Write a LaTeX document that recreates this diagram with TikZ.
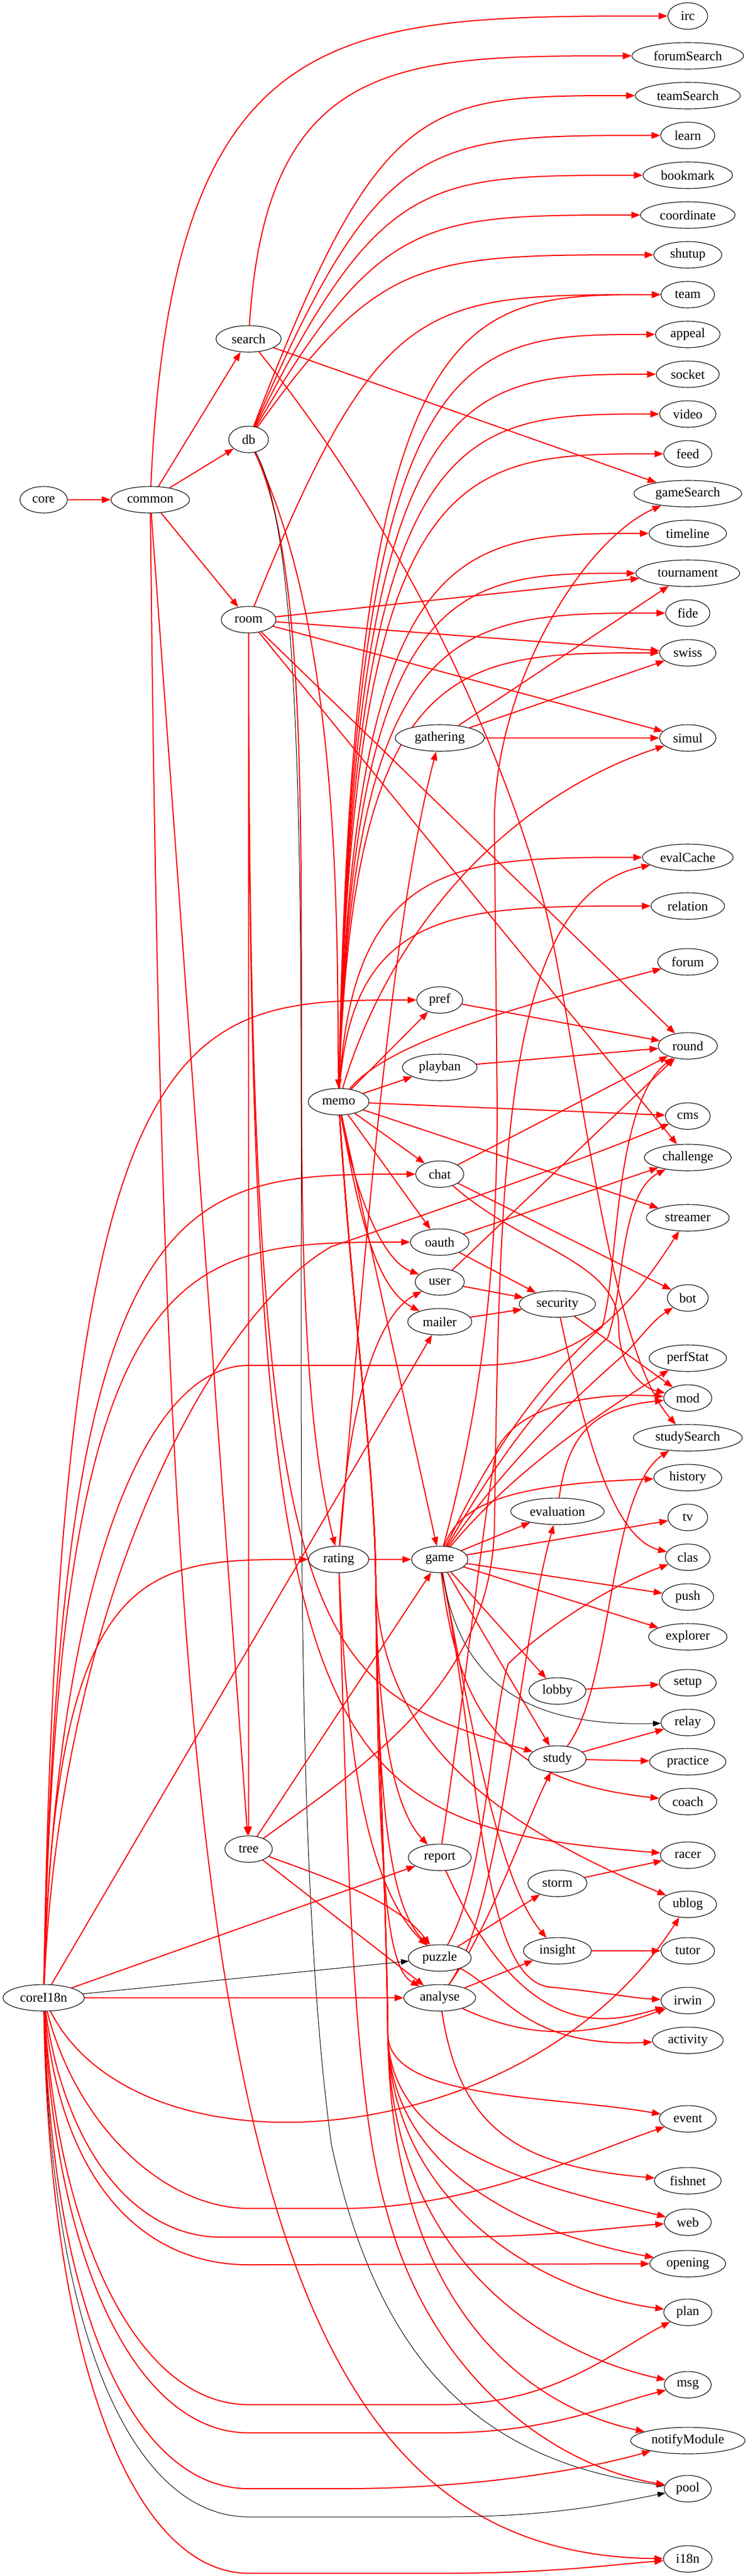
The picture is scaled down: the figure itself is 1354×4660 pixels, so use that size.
\documentclass[tikz,border=0pt]{standalone}
\usepackage{fontspec}
\setmainfont{Liberation Serif}
\usetikzlibrary{shapes.geometric,arrows.meta}
\pgfdeclarelayer{bg}
\pgfdeclarelayer{edges}
\pgfsetlayers{bg,edges,main}
\tikzset{
  modnode/.style={ellipse, draw=black, line width=1.1pt, fill=white, inner sep=0pt,
    minimum height=48pt, font=\fontsize{24}{28}\selectfont},
  redge/.style={draw=red, line width=2pt, -{Triangle[length=16pt,width=12pt]}},
  bedge/.style={draw=black, line width=1pt, -{Triangle[length=14pt,width=10pt]}},
}
\newcommand\nD[4]{\node[modnode, minimum width=#4pt] (#1) at (#2,-#3) {#1};}
\newcommand\eS[3][redge]{\draw[#1] (#2) -- (#3);}
\newcommand\eG[7]{%
  \path (#2); \pgfgetlastxy{\Xa}{\Ya}%
  \path (#3); \pgfgetlastxy{\Xb}{\Yb}%
  \pgfmathsetmacro\Pax{#4*(\Xb-\Xa)}%
  \pgfmathsetmacro\Pay{#5*(\Yb-\Ya)}%
  \pgfmathsetmacro\Pbx{#6*(\Xb-\Xa)}%
  \pgfmathsetmacro\Pby{#7*(\Yb-\Ya)}%
  \draw[#1] (#2) .. controls +(\Pax pt,\Pay pt) and +(\Pbx pt,\Pby pt) .. (#3);%
}
\newcommand\eC[3][redge]{\eG{#1}{#2}{#3}{0.08}{0.7}{-0.7}{-0.08}}
\newcommand\eV[3][redge]{\eG{#1}{#2}{#3}{0.04}{1}{-0.65}{0}}
\newcommand\eD[3][redge]{\eG{#1}{#2}{#3}{0.3}{1}{-0.6}{0}}
\begin{document}
\begin{tikzpicture}[x=1pt,y=1pt]
\useasboundingbox (0,0) rectangle (1354,-4660);
\begin{pgfonlayer}{bg}\fill[white] (0,0) rectangle (1354,-4660);\end{pgfonlayer}
% ---------- nodes
\nD{core}{79}{904}{86}
\nD{common}{272}{904}{142}
\nD{coreI18n}{79}{3614}{147}
\nD{search}{450}{613}{118}
\nD{db}{450}{795}{72}
\nD{room}{450}{1121}{99}
\nD{tree}{450}{3345}{86}
\nD{memo}{613}{1993}{110}
\nD{rating}{613}{2821}{109}
\nD{gathering}{796}{1335}{161}
\nD{pref}{796}{1809}{83}
\nD{playban}{796}{1931}{135}
\nD{chat}{796}{2124}{87}
\nD{oauth}{796}{2247}{106}
\nD{user}{796}{2319}{89}
\nD{mailer}{796}{2391}{116}
\nD{game}{796}{2821}{102}
\nD{report}{796}{3360}{114}
\nD{puzzle}{796}{3542}{114}
\nD{analyse}{796}{3614}{130}
\nD{security}{1009}{2359}{138}
\nD{evaluation}{1009}{2734}{169}
\nD{lobby}{1009}{3059}{103}
\nD{study}{1009}{3182}{104}
\nD{storm}{1009}{3407}{107}
\nD{insight}{1009}{3529}{123}
\nD{irc}{1245}{29}{72}
\nD{forumSearch}{1245}{101}{202}
\nD{teamSearch}{1245}{173}{190}
\nD{learn}{1245}{245}{98}
\nD{bookmark}{1245}{317}{162}
\nD{coordinate}{1245}{389}{171}
\nD{shutup}{1245}{461}{123}
\nD{team}{1245}{533}{97}
\nD{appeal}{1245}{605}{117}
\nD{socket}{1245}{677}{114}
\nD{video}{1245}{749}{102}
\nD{feed}{1245}{821}{87}
\nD{gameSearch}{1245}{893}{195}
\nD{timeline}{1245}{965}{140}
\nD{tournament}{1245}{1037}{188}
\nD{fide}{1245}{1109}{80}
\nD{swiss}{1245}{1181}{102}
\nD{simul}{1245}{1335}{102}
\nD{evalCache}{1245}{1551}{164}
\nD{relation}{1245}{1639}{133}
\nD{forum}{1245}{1740}{109}
\nD{round}{1245}{1892}{107}
\nD{cms}{1245}{2019}{81}
\nD{challenge}{1245}{2094}{157}
\nD{streamer}{1245}{2203}{150}
\nD{bot}{1245}{2348}{74}
\nD{perfStat}{1245}{2457}{140}
\nD{mod}{1245}{2529}{87}
\nD{studySearch}{1245}{2601}{197}
\nD{history}{1245}{2673}{123}
\nD{tv}{1245}{2745}{72}
\nD{clas}{1245}{2817}{81}
\nD{push}{1245}{2889}{94}
\nD{explorer}{1245}{2961}{142}
\nD{setup}{1245}{3044}{103}
\nD{relay}{1245}{3116}{97}
\nD{practice}{1245}{3187}{138}
\nD{coach}{1245}{3259}{105}
\nD{racer}{1245}{3356}{99}
\nD{ublog}{1245}{3445}{104}
\nD{tutor}{1245}{3529}{97}
\nD{irwin}{1245}{3619}{97}
\nD{activity}{1245}{3691}{128}
\nD{event}{1245}{3833}{103}
\nD{fishnet}{1245}{3945}{121}
\nD{web}{1245}{4020}{85}
\nD{opening}{1245}{4095}{137}
\nD{plan}{1245}{4183}{87}
\nD{msg}{1245}{4314}{85}
\nD{notifyModule}{1245}{4415}{207}
\nD{pool}{1245}{4502}{85}
\nD{i18n}{1245}{4629}{88}
% ---------- edges
\begin{pgfonlayer}{edges}
% core / common
\eS{core}{common}
\eS{common}{search}
\eS{common}{db}
\eS{common}{room}
\eS{common}{tree}
\eV{common}{irc}
\draw[redge] (common) .. controls (300,-3600) and (400,-4620) .. (i18n);
% search
\eV{search}{forumSearch}
\eS{search}{gameSearch}
\draw[redge] (search) .. controls (800,-1050) and (960,-1500) .. (1000,-1700) .. controls (1060,-2000) and (1110,-2450) .. (studySearch);
% db
\eD{db}{teamSearch}
\eD{db}{learn}
\eD{db}{bookmark}
\eD{db}{coordinate}
\eD{db}{shutup}
\draw[redge] (db) .. controls (620,-1150) and (610,-1700) .. (memo);
\draw[redge] (db) .. controls (620,-1150) and (480,-2300) .. (rating);
\draw[bedge] (db) .. controls (620,-1100) and (480,-3000) .. (600,-3880) .. controls (680,-4250) and (850,-4450) .. (pool);
% room
\eD{room}{team}
\eS{room}{tournament}
\eS{room}{swiss}
\eS{room}{simul}
\eS{room}{round}
\eS{room}{challenge}
\eS{room}{tree}
\draw[redge] (room) .. controls (450,-3000) and (560,-3050) .. (study);
\draw[redge] (room) .. controls (450,-3200) and (560,-3300) .. (racer);
% memo upwards
\eV{memo}{team}
\eV{memo}{appeal}
\eV{memo}{socket}
\eV{memo}{video}
\eV{memo}{feed}
\eV{memo}{timeline}
\eV{memo}{tournament}
\eV{memo}{fide}
\eV{memo}{swiss}
\draw[redge] (memo) .. controls (700,-1700) and (900,-1450) .. (simul);
\eV{memo}{evalCache}
\eV{memo}{relation}
\draw[redge] (memo) .. controls (700,-1890) and (900,-1830) .. (forum);
\eS{memo}{pref}
\eS{memo}{playban}
\eS{memo}{cms}
\eS{memo}{chat}
\eS{memo}{streamer}
\eS{memo}{oauth}
\draw[redge] (memo) .. controls (640,-2150) and (690,-2280) .. (user);
\draw[redge] (memo) .. controls (650,-2200) and (680,-2330) .. (mailer);
\eS{memo}{game}
% memo downwards
\draw[redge] (memo) .. controls (640,-2400) and (678,-2650) .. (680,-2850) .. controls (682,-3150) and (720,-3280) .. (report);
\draw[redge] (memo) .. controls (640,-2400) and (678,-2650) .. (680,-2850) .. controls (683,-3300) and (710,-3450) .. (puzzle);
\draw[redge] (memo) .. controls (640,-2400) and (678,-2650) .. (680,-2850) .. controls (684,-3400) and (700,-3560) .. (analyse);
\draw[redge] (memo) .. controls (640,-2400) and (678,-2650) .. (680,-2850) .. controls (682,-3150) and (900,-3300) .. (ublog);
\draw[redge] (memo) .. controls (640,-2400) and (678,-2650) .. (680,-2850) .. controls (682,-3100) and (700,-3450) .. (702,-3680) .. controls (704,-3800) and (1000,-3790) .. (event);
\draw[redge] (memo) .. controls (640,-2400) and (678,-2650) .. (680,-2850) .. controls (682,-3100) and (700,-3450) .. (702,-3680) .. controls (705,-3900) and (1000,-3960) .. (web);
\draw[redge] (memo) .. controls (640,-2400) and (678,-2650) .. (680,-2850) .. controls (682,-3100) and (700,-3450) .. (702,-3680) .. controls (706,-3950) and (1000,-4050) .. (opening);
\draw[redge] (memo) .. controls (640,-2400) and (678,-2650) .. (680,-2850) .. controls (682,-3100) and (700,-3450) .. (702,-3680) .. controls (707,-4000) and (1000,-4150) .. (plan);
\draw[redge] (memo) .. controls (640,-2400) and (678,-2650) .. (680,-2850) .. controls (682,-3100) and (700,-3450) .. (702,-3680) .. controls (708,-4100) and (1000,-4260) .. (msg);
\draw[redge] (memo) .. controls (640,-2400) and (678,-2650) .. (680,-2850) .. controls (682,-3100) and (700,-3450) .. (702,-3680) .. controls (709,-4200) and (980,-4360) .. (notifyModule);
% rating
\eS{rating}{game}
\draw[redge] (rating) .. controls (650,-2400) and (700,-1700) .. (gathering);
\draw[redge] (rating) .. controls (630,-2550) and (680,-2380) .. (user);
\draw[redge] (rating) .. controls (625,-3100) and (650,-3400) .. (puzzle);
\draw[redge] (rating) .. controls (630,-3400) and (640,-3800) .. (700,-4000) .. controls (780,-4300) and (1000,-4460) .. (pool);
% column 4
\eS{gathering}{tournament}
\eS{gathering}{swiss}
\eS{gathering}{simul}
\eS{pref}{round}
\eS{playban}{round}
\eS{chat}{round}
\eS{chat}{bot}
\draw[redge] (chat) .. controls (950,-2260) and (1120,-2280) .. (1120,-2400) .. controls (1120,-2470) and (1160,-2510) .. (mod);
\eS{user}{round}
\eS{user}{security}
\eS{oauth}{security}
\eS{oauth}{challenge}
\eS{mailer}{security}
% game
\eS{game}{evaluation}
\eS{game}{tv}
\eS{game}{push}
\eS{game}{explorer}
\eS{game}{lobby}
\eS{game}{study}
\eC{game}{history}
\draw[redge] (game) .. controls (870,-2550) and (900,-2300) .. (900,-2000) -- (895,-1500) .. controls (890,-1250) and (1050,-980) .. (gameSearch);
\draw[redge] (game) .. controls (900,-2600) and (1000,-2480) .. (1090,-2400) .. controls (1120,-2300) and (1110,-2000) .. (round);
\draw[redge] (game) .. controls (910,-2620) and (1010,-2500) .. (1100,-2420) .. controls (1130,-2340) and (1120,-2160) .. (challenge);
\draw[redge] (game) .. controls (920,-2640) and (1050,-2520) .. (1130,-2450) .. controls (1160,-2420) and (1180,-2390) .. (bot);
\draw[redge] (game) .. controls (930,-2660) and (1080,-2560) .. (perfStat);
\draw[redge] (game) .. controls (850,-3100) and (900,-3400) .. (insight);
\eC{game}{coach}
\draw[redge] (game) .. controls (870,-3200) and (870,-3590) .. (1000,-3595) .. controls (1100,-3605) and (1150,-3615) .. (irwin);
\draw[bedge] (game) .. controls (832,-3028) and (931,-3125) .. (relay);
% column 5
\eS{security}{mod}
\draw[redge] (security) .. controls (1050,-2550) and (1100,-2780) .. (clas);
\eC{evaluation}{mod}
\eS{lobby}{setup}
\eS{study}{relay}
\eS{study}{practice}
\draw[redge] (study) .. controls (1110,-3050) and (1100,-2700) .. (studySearch);
\eS{storm}{racer}
\eS{insight}{tutor}
% tree
\eS{tree}{game}
\draw[redge] (tree) .. controls (600,-3400) and (720,-3440) .. (puzzle);
\eS{tree}{analyse}
\draw[redge] (tree) .. controls (650,-3200) and (890,-3050) .. (895,-2760) .. controls (905,-2100) and (910,-1620) .. (evalCache);
% puzzle
\eS{puzzle}{storm}
\draw[redge] (puzzle) .. controls (910,-3600) and (950,-3705) .. (activity);
\draw[redge] (puzzle) .. controls (880,-3400) and (890,-3100) .. (920,-3010) .. controls (980,-2950) and (1100,-2870) .. (clas);
% analyse
\eS{analyse}{insight}
\draw[redge] (analyse) .. controls (890,-3480) and (950,-3300) .. (study);
\draw[redge] (analyse) .. controls (910,-3450) and (935,-3000) .. (evaluation);
\draw[redge] (analyse) to[out=-25,in=200] (irwin);
\eC{analyse}{fishnet}
% report
\draw[redge] (report) .. controls (850,-3000) and (880,-2700) .. (900,-2620) .. controls (950,-2530) and (1100,-2520) .. (mod);
\draw[redge] (report) .. controls (950,-3700) and (1100,-3660) .. (irwin);
% coreI18n
\eV{coreI18n}{pref}
\eV{coreI18n}{chat}
\eV{coreI18n}{oauth}
\eV{coreI18n}{rating}
\draw[redge] (coreI18n) .. controls (110,-2900) and (380,-2380) .. (600,-2255) .. controls (820,-2180) and (1050,-2100) .. (cms);
\draw[redge] (coreI18n) .. controls (100,-2900) and (250,-2470) .. (450,-2470) -- (860,-2470) .. controls (1050,-2470) and (1130,-2380) .. (streamer);
\eS{coreI18n}{mailer}
\eS{coreI18n}{report}
\eS[bedge]{coreI18n}{puzzle}
\eS{coreI18n}{analyse}
\draw[redge] (coreI18n) .. controls (250,-3950) and (950,-3900) .. (ublog);
\draw[redge] (coreI18n) .. controls (140,-3850) and (300,-3995) .. (450,-3995) -- (620,-3995) .. controls (850,-3995) and (1050,-3900) .. (event);
\draw[redge] (coreI18n) .. controls (120,-3900) and (250,-4047) .. (400,-4047) -- (800,-4047) .. controls (1000,-4047) and (1100,-4030) .. (web);
\draw[redge] (coreI18n) .. controls (110,-3950) and (260,-4097) .. (450,-4097) -- (opening);
\draw[redge] (coreI18n) .. controls (105,-4050) and (250,-4350) .. (450,-4350) -- (800,-4350) .. controls (1000,-4350) and (1100,-4260) .. (plan);
\draw[redge] (coreI18n) .. controls (100,-4100) and (250,-4401) .. (450,-4401) -- (800,-4401) .. controls (1000,-4401) and (1100,-4350) .. (msg);
\draw[redge] (coreI18n) .. controls (95,-4200) and (250,-4502) .. (450,-4502) -- (620,-4502) .. controls (850,-4502) and (1050,-4470) .. (notifyModule);
\draw[bedge] (coreI18n) .. controls (92,-4250) and (250,-4553) .. (450,-4553) -- (800,-4553) .. controls (1000,-4553) and (1100,-4530) .. (pool);
\draw[redge] (coreI18n) .. controls (90,-4300) and (250,-4655) .. (450,-4655) -- (800,-4655) .. controls (1000,-4655) and (1100,-4640) .. (i18n);
\end{pgfonlayer}
\end{tikzpicture}
\end{document}
